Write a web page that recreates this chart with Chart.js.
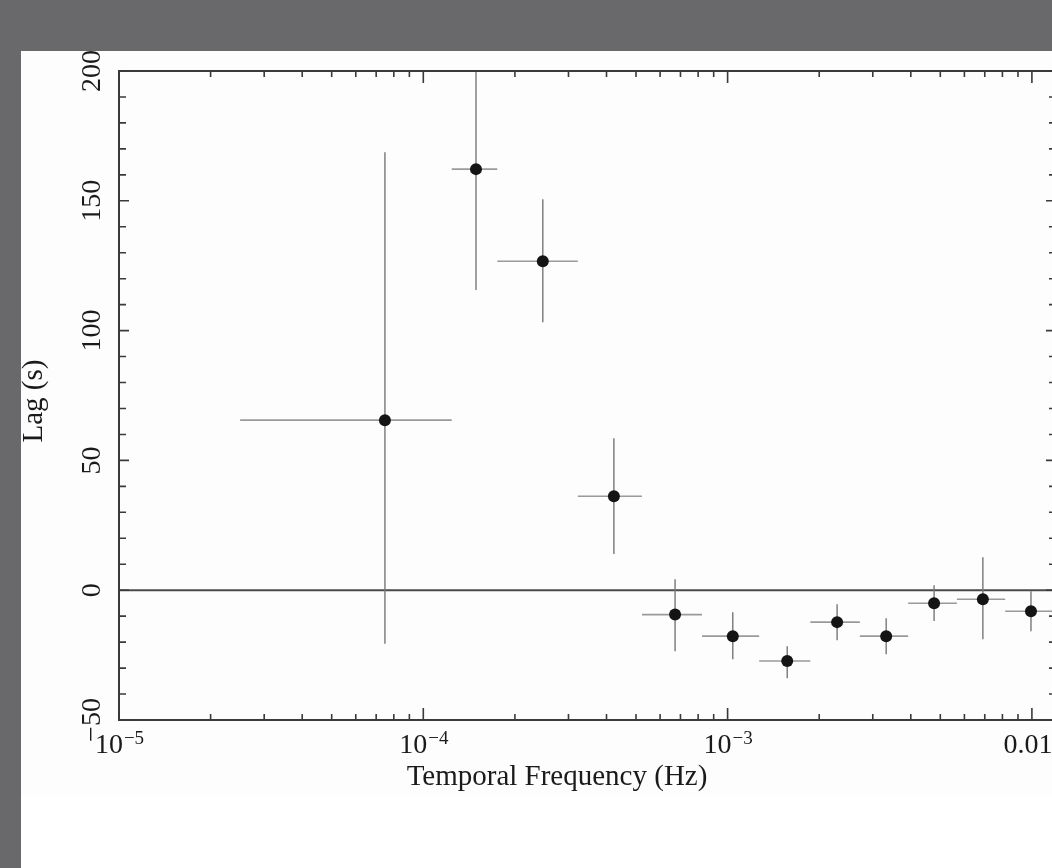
<!DOCTYPE html>
<html>
<head>
<meta charset="utf-8">
<script src="https://cdn.jsdelivr.net/npm/chart.js@4/dist/chart.umd.min.js"></script>
<style>
  html, body { margin: 0; padding: 0; width: 1052px; height: 868px; overflow: hidden; background: #69696b; }
  #panel { position: absolute; left: 21px; top: 51px; width: 1100px; height: 900px; background: #ffffff; }
  #inner { position: absolute; left: 0; top: 0; width: 1100px; height: 744px; background: #fdfdfd; }
  #lagChart { position: absolute; left: 0; top: 0; }
</style>
</head>
<body>
<div id="panel"><div id="inner"></div></div>
<canvas id="lagChart" width="1100" height="868"></canvas>
<script>
const freq     = [7.48e-5, 1.49e-4, 2.47e-4, 4.23e-4, 6.72e-4, 1.04e-3, 1.57e-3, 2.29e-3, 3.32e-3, 4.77e-3, 6.9e-3, 9.93e-3];
const freqLow  = [2.5e-5, 1.24e-4, 1.75e-4, 3.22e-4, 5.23e-4, 8.24e-4, 1.27e-3, 1.87e-3, 2.72e-3, 3.92e-3, 5.67e-3, 8.17e-3];
const freqHigh = [1.24e-4, 1.75e-4, 3.22e-4, 5.23e-4, 8.24e-4, 1.27e-3, 1.87e-3, 2.72e-3, 3.92e-3, 5.67e-3, 8.17e-3, 1.21e-2];
const lag      = [65.5, 162.2, 126.7, 36.2, -9.4, -17.7, -27.3, -12.3, -17.7, -5.0, -3.5, -8.1];
const lagLow   = [-20.6, 115.6, 103.2, 13.9, -23.5, -26.6, -33.9, -19.3, -24.7, -11.9, -18.9, -15.8];
const lagHigh  = [168.7, 209, 150.6, 58.5, 4.2, -8.5, -21.6, -5.4, -10.8, 1.9, 12.7, -0.4];

// axis ticks
const xTickValues = [1e-5, 1e-4, 1e-3, 1e-2];
const xTickBase   = ['10', '10', '10', '0.01'];
const xTickSup    = ['\u22125', '\u22124', '\u22123', ''];
const yTickValues = [-50, 0, 50, 100, 150, 200];
const yTickLabels = ['\u221250', '0', '50', '100', '150', '200'];

const SERIF = '"Liberation Serif", "Times New Roman", serif';

// error bars + zero line, clipped to plot area
const errorBars = {
  id: 'errorBars',
  beforeDatasetsDraw(chart) {
    const { ctx, chartArea: a, scales: { x, y } } = chart;
    ctx.save();
    ctx.beginPath();
    ctx.rect(a.left, a.top, a.right - a.left, a.bottom - a.top);
    ctx.clip();

    // zero line
    ctx.strokeStyle = '#4a4a4a';
    ctx.lineWidth = 2;
    ctx.beginPath();
    ctx.moveTo(a.left, y.getPixelForValue(0));
    ctx.lineTo(a.right, y.getPixelForValue(0));
    ctx.stroke();

    freq.forEach((f, i) => {
      const px = x.getPixelForValue(f);
      const py = y.getPixelForValue(lag[i]);
      ctx.strokeStyle = '#9a9a9a';
      ctx.lineWidth = 1.6;
      ctx.beginPath();
      ctx.moveTo(x.getPixelForValue(freqLow[i]), py);
      ctx.lineTo(x.getPixelForValue(freqHigh[i]), py);
      ctx.stroke();
      ctx.strokeStyle = '#777';
      ctx.lineWidth = 1.4;
      ctx.beginPath();
      ctx.moveTo(px, y.getPixelForValue(lagLow[i]));
      ctx.lineTo(px, y.getPixelForValue(lagHigh[i]));
      ctx.stroke();
    });
    ctx.restore();
  }
};

// frame, inward ticks, labels and titles
const frame = {
  id: 'frame',
  afterDraw(chart) {
    const { ctx, chartArea: a, scales: { x, y } } = chart;
    ctx.save();
    ctx.strokeStyle = '#3a3a3a';
    ctx.lineWidth = 2;
    ctx.strokeRect(a.left, a.top, a.right - a.left, a.bottom - a.top);

    // x ticks (log decades + minors)
    ctx.lineWidth = 1.6;
    for (let e = -5; e <= -2; e++) {
      for (let m = 1; m <= 9; m++) {
        const v = m * Math.pow(10, e);
        if (v < x.min || v > x.max) continue;
        const px = x.getPixelForValue(v);
        const len = m === 1 ? 12 : 6;
        ctx.beginPath();
        ctx.moveTo(px, a.bottom); ctx.lineTo(px, a.bottom - len);
        ctx.moveTo(px, a.top); ctx.lineTo(px, a.top + len);
        ctx.stroke();
      }
    }
    // y ticks every 10
    for (let v = -50; v <= 200; v += 10) {
      const py = y.getPixelForValue(v);
      const len = v % 50 === 0 ? 10 : 7;
      ctx.beginPath();
      ctx.moveTo(a.left, py); ctx.lineTo(a.left + len, py);
      ctx.moveTo(a.right, py); ctx.lineTo(a.right - len, py);
      ctx.stroke();
    }

    ctx.fillStyle = '#1a1a1a';
    ctx.textBaseline = 'alphabetic';

    // x tick labels
    xTickValues.forEach((v, i) => {
      const px = x.getPixelForValue(v);
      ctx.font = '28px ' + SERIF;
      const wb = ctx.measureText(xTickBase[i]).width;
      ctx.font = '19px ' + SERIF;
      const ws = ctx.measureText(xTickSup[i]).width;
      let sx = px - (wb + ws) / 2;
      if (!xTickSup[i]) sx -= 4;
      ctx.textAlign = 'left';
      ctx.font = '28px ' + SERIF;
      ctx.fillText(xTickBase[i], sx, 753);
      ctx.font = '19px ' + SERIF;
      ctx.fillText(xTickSup[i], sx + wb + 1, 744);
    });

    // y tick labels, rotated
    ctx.font = '28px ' + SERIF;
    ctx.textAlign = 'center';
    yTickValues.forEach((v, i) => {
      const py = y.getPixelForValue(v);
      ctx.save();
      ctx.translate(100, py);
      ctx.rotate(-Math.PI / 2);
      ctx.fillText(yTickLabels[i], 0, 0);
      ctx.restore();
    });

    // axis titles
    ctx.font = '29px ' + SERIF;
    ctx.fillText('Temporal Frequency (Hz)', 557, 785);
    ctx.save();
    ctx.translate(42, 401);
    ctx.rotate(-Math.PI / 2);
    ctx.fillText('Lag (s)', 0, 0);
    ctx.restore();
    ctx.restore();
  }
};

new Chart(document.getElementById('lagChart'), {
  type: 'scatter',
  data: {
    datasets: [{
      label: 'Lag',
      data: freq.map((f, i) => ({ x: f, y: lag[i] })),
      pointRadius: 6,
      pointHoverRadius: 6,
      pointBackgroundColor: '#141414',
      pointBorderColor: '#141414',
      pointBorderWidth: 0
    }]
  },
  options: {
    responsive: false,
    animation: false,
    layout: { padding: { left: 119, top: 71, right: 44, bottom: 148 } },
    plugins: { legend: { display: false }, tooltip: { enabled: false } },
    scales: {
      x: { type: 'logarithmic', min: 1e-5, max: 0.012, display: false },
      y: { type: 'linear', min: -50, max: 200, display: false }
    }
  },
  plugins: [errorBars, frame]
});
</script>
</body>
</html>
